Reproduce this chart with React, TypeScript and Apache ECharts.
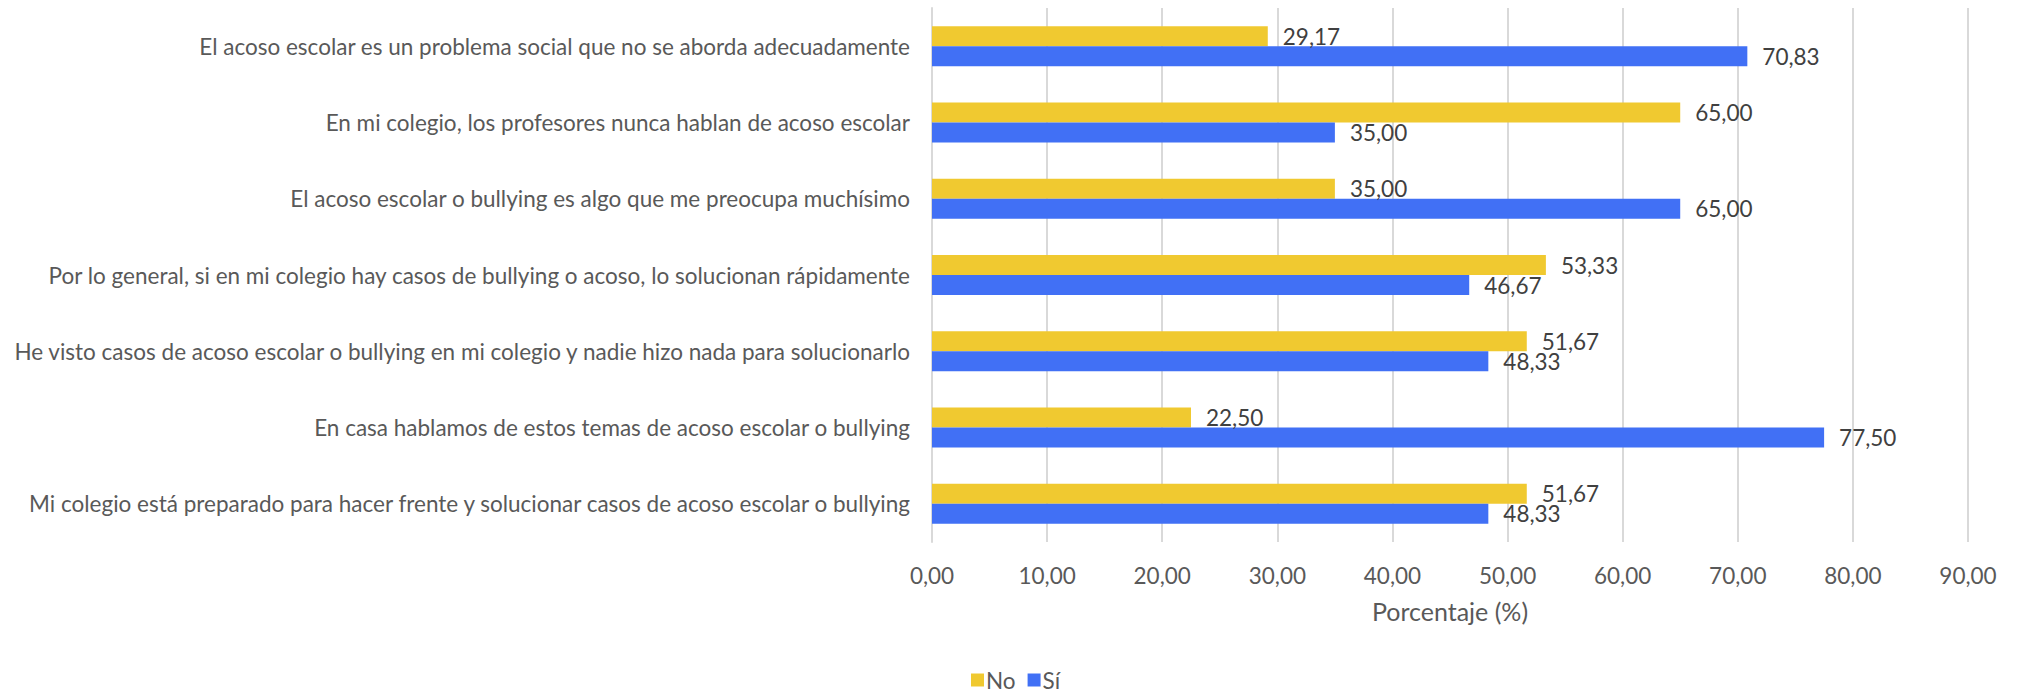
import React, { useEffect, useRef } from "react";
import * as echarts from "echarts";

const categories = [
  "Mi colegio está preparado para hacer frente y solucionar casos de acoso escolar o bullying",
  "En casa hablamos de estos temas de acoso escolar o bullying",
  "He visto casos de acoso escolar o bullying en mi colegio y nadie hizo nada para solucionarlo",
  "Por lo general, si en mi colegio hay casos de bullying o acoso, lo solucionan rápidamente",
  "El acoso escolar o bullying es algo que me preocupa muchísimo",
  "En mi colegio, los profesores nunca hablan de acoso escolar",
  "El acoso escolar es un problema social que no se aborda adecuadamente",
];
const noValues = [51.67, 22.5, 51.67, 53.33, 35.0, 65.0, 29.17];
const siValues = [48.33, 77.5, 48.33, 46.67, 65.0, 35.0, 70.83];
const xTitle = "Porcentaje (%)";

const FONT = "Lato";
const FS = 22.5;
const fmt = (v: number) => v.toFixed(2).replace(".", ",");

export default function App() {
  const ref = useRef<HTMLDivElement>(null);
  useEffect(() => {
    if (!ref.current) return;
    const chart = echarts.init(ref.current, undefined, { renderer: "svg" });
    const lbl = {
      show: true,
      position: "right",
      distance: 15,
      color: "#404040",
      fontSize: FS,
      fontFamily: FONT,
      formatter: (p: any) => fmt(p.value),
    };
    chart.setOption({
      animation: false,
      textStyle: { fontFamily: FONT },
      grid: { left: 932, right: 54, top: 8, bottom: 152, containLabel: false },
      legend: {
        data: ["No", "Sí"],
        top: 668,
        left: 971,
        padding: 0,
        itemWidth: 13,
        itemHeight: 13,
        itemGap: 12,
        icon: "rect",
        textStyle: { color: "#595959", fontSize: FS, lineHeight: 24, fontFamily: FONT, padding: [0, 0, 0, -3] },
      },
      xAxis: {
        type: "value",
        min: 0,
        max: 90,
        interval: 10,
        name: xTitle,
        nameLocation: "middle",
        nameGap: 56,
        nameTextStyle: { color: "#595959", fontSize: 25, fontFamily: FONT, verticalAlign: "top" },
        axisLabel: { color: "#595959", fontSize: FS, fontFamily: FONT, margin: 22, formatter: (v: number) => fmt(v) },
        splitLine: { show: true, lineStyle: { color: "#D9D9D9", width: 2 } },
        axisLine: { show: false },
        axisTick: { show: false },
      },
      yAxis: {
        type: "category",
        data: categories,
        axisLabel: { color: "#595959", fontSize: FS, fontFamily: FONT, margin: 22 },
        axisLine: { show: true, lineStyle: { color: "#D9D9D9", width: 2 } },
        axisTick: { show: false },
      },
      series: [
        {
          name: "No",
          type: "bar",
          data: noValues,
          barWidth: 20,
          barGap: "0%",
          itemStyle: { color: "#F0C930" },
          label: lbl,
        },
        {
          name: "Sí",
          type: "bar",
          data: siValues,
          barWidth: 20,
          barGap: "0%",
          itemStyle: { color: "#4170F5" },
          label: lbl,
        },
      ],
    });
    return () => chart.dispose();
  }, []);
  return <div ref={ref} style={{ position: "absolute", left: 0, top: 0, width: 2022, height: 694 }} />;
}
